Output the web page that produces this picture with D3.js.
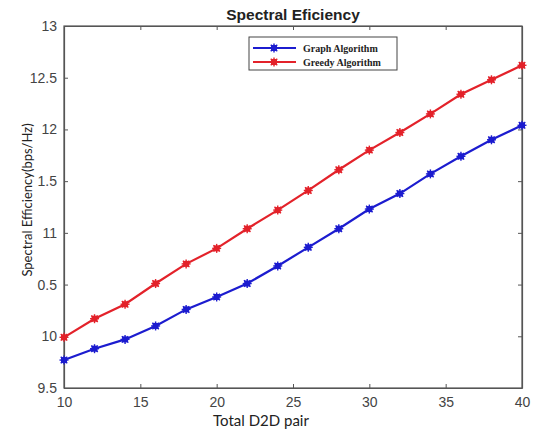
<!DOCTYPE html>
<html><head><meta charset="utf-8">
<script src="https://cdn.jsdelivr.net/npm/d3@7"></script>
<style>body{margin:0;background:#fff}svg{display:block}</style>
</head><body>
<script>
const pairs = [10,12,14,16,18,20,22,24,26,28,30,32,34,36,38,40];
const graphAlg = [9.77,9.88,9.97,10.10,10.26,10.38,10.51,10.68,10.86,11.04,11.23,11.38,11.57,11.74,11.90,12.04];
const greedyAlg = [9.99,10.17,10.31,10.51,10.70,10.85,11.04,11.22,11.41,11.61,11.80,11.97,12.15,12.34,12.48,12.62];
const xTicks = [10,15,20,25,30,35,40];
const yTicks = [9.5,10,10.5,11,11.5,12,12.5,13];
const yTickLabels = ["9.5","10","0.5","11","1.5","12","12.5","13"];
const seriesNames = ["Graph Algorithm","Greedy Algorithm"];
const seriesColors = ["#1c1ccf","#e3222a"];

const W=534,H=441;
const m={l:64,r:12,t:26,b:53};
const svg=d3.select("body").append("svg").attr("width",W).attr("height",H);
const x=d3.scaleLinear().domain([10,40]).range([m.l,W-m.r]);
const y=d3.scaleLinear().domain([9.5,13]).range([H-m.b,m.t]);
const axCol="#555";

svg.append("rect").attr("x",m.l).attr("y",m.t).attr("width",W-m.r-m.l).attr("height",H-m.b-m.t)
  .attr("fill","none").attr("stroke",axCol).attr("stroke-width",1.2);

const fmtY=(d,i)=>yTickLabels[i];
const gx=svg.append("g").attr("transform",`translate(0,${H-m.b})`)
  .call(d3.axisBottom(x).tickValues(xTicks).tickSizeInner(-4).tickSizeOuter(0).tickPadding(9));
const gy=svg.append("g").attr("transform",`translate(${m.l},0)`)
  .call(d3.axisLeft(y).tickValues(yTicks).tickFormat(fmtY).tickSizeInner(-4).tickSizeOuter(0).tickPadding(7));
const gxt=svg.append("g").attr("transform",`translate(0,${m.t})`)
  .call(d3.axisTop(x).tickValues(xTicks).tickSizeInner(-4).tickSizeOuter(0).tickFormat(""));
const gyr=svg.append("g").attr("transform",`translate(${W-m.r},0)`)
  .call(d3.axisRight(y).tickValues(yTicks).tickSizeInner(-4).tickSizeOuter(0).tickFormat(""));
[gx,gy,gxt,gyr].forEach(g=>{
  g.select(".domain").attr("stroke",axCol).attr("stroke-width",1.2);
  g.selectAll(".tick line").attr("stroke",axCol);
  g.selectAll(".tick text").attr("fill","#444").attr("font-family","Liberation Sans, Arial, sans-serif").attr("font-size",14);
});

svg.append("text").attr("x",(m.l+W-m.r)/2).attr("y",20).attr("text-anchor","middle")
  .attr("font-family","Liberation Sans, Arial, sans-serif").attr("font-weight","bold").attr("font-size",15.5)
  .attr("fill","#222").text("Spectral Eficiency");
svg.append("text").attr("x",261).attr("y",426).attr("text-anchor","middle")
  .attr("font-family","Lato, 'Open Sans', sans-serif").attr("font-size",15).attr("fill","#222").text("Total D2D pair");
svg.append("text").attr("transform","translate(27,200) rotate(-90)").attr("text-anchor","middle")
  .attr("dy","0.35em")
  .attr("font-family","Lato, 'Open Sans', sans-serif").attr("font-size",13).attr("fill","#222")
  .text("Spectral Efficiency(bps/Hz)");

function marker(g,cx,cy,col){
  g.append("rect").attr("x",cx-3).attr("y",cy-3).attr("width",6).attr("height",6).attr("fill",col);
  const r=4.5;
  [[0,1],[1,0],[0.72,0.72],[0.72,-0.72]].forEach(([a,b])=>{
    g.append("line").attr("x1",cx-a*r).attr("y1",cy-b*r).attr("x2",cx+a*r).attr("y2",cy+b*r)
      .attr("stroke",col).attr("stroke-width",1.4);
  });
}

const line=d3.line().x(d=>x(d[0])).y(d=>y(d[1]));
[graphAlg,greedyAlg].forEach((vals,si)=>{
  const data=pairs.map((p,i)=>[p,vals[i]]);
  svg.append("path").datum(data).attr("d",line).attr("fill","none")
    .attr("stroke",seriesColors[si]).attr("stroke-width",2.2);
  const g=svg.append("g");
  data.forEach(d=>marker(g,x(d[0]),y(d[1]),seriesColors[si]));
});

const lg=svg.append("g");
lg.append("rect").attr("x",249).attr("y",37).attr("width",148).attr("height",33)
  .attr("fill","#fff").attr("stroke","#444").attr("stroke-width",1);
seriesNames.forEach((n,i)=>{
  const ly=48+i*14;
  lg.append("line").attr("x1",253).attr("x2",296).attr("y1",ly).attr("y2",ly)
    .attr("stroke",seriesColors[i]).attr("stroke-width",2.2);
  marker(lg,274,ly,seriesColors[i]);
  lg.append("text").attr("x",303).attr("y",ly+3.5).attr("font-family","Liberation Serif, 'Times New Roman', serif")
    .attr("font-weight","bold").attr("font-size",10).attr("fill","#222").text(n);
});
</script>
</body></html>
